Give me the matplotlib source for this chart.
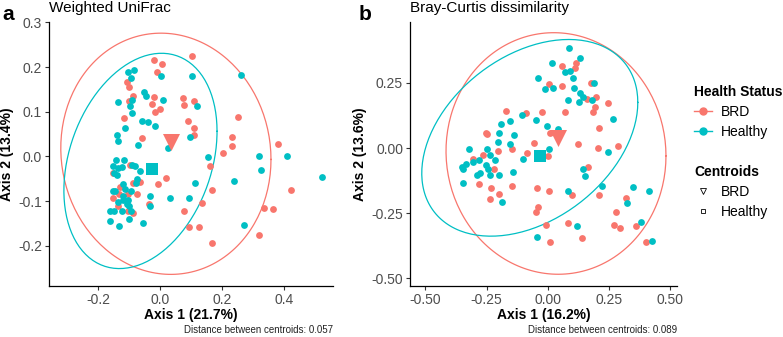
import numpy as np
import matplotlib
matplotlib.use("Agg")
import matplotlib.pyplot as plt
from matplotlib.lines import Line2D

plt.rcParams["font.family"] = ["Liberation Sans", "DejaVu Sans"]

RED = "#F8766D"
TEAL = "#00BFC4"

# ---- panel a: Weighted UniFrac ----
a_brd_x = [0.102, -0.019, 0.005, -0.011, -0.107, -0.099, -0.086, -0.099, -0.019, -0.027,
           0.000, -0.015, 0.073, 0.110, 0.077, -0.116, 0.091, 0.110, 0.110, -0.057,
           0.251, 0.233, 0.231, 0.204, 0.161, 0.380, 0.169, 0.423, 0.136, 0.077,
           0.095, 0.127, 0.335, 0.364, 0.167, 0.319, 0.019, -0.007, -0.152, -0.097,
           -0.086, -0.065, -0.131, -0.102, -0.073, -0.151, -0.136, -0.088, -0.102, -0.035,
           -0.129]
a_brd_y = [0.225, 0.216, 0.207, 0.190, 0.166, 0.155, 0.136, 0.125, 0.132, 0.118,
           0.106, 0.099, 0.130, 0.125, 0.115, 0.086, 0.080, 0.064, 0.049, 0.042,
           0.088, 0.043, 0.023, 0.008, -0.022, 0.028, -0.076, -0.076, -0.104, -0.122,
           -0.159, -0.159, -0.115, -0.117, -0.193, -0.176, -0.048, -0.061, -0.037, -0.020,
           -0.060, -0.057, -0.083, -0.083, -0.083, -0.094, -0.112, -0.126, -0.121, -0.107,
           -0.069]
a_healthy_x = [0.003, -0.102, -0.083, 0.102, -0.094, -0.135, -0.089, -0.097, -0.052, -0.046,
               0.009, 0.118, -0.091, -0.059, -0.038, -0.016, -0.113, 0.097, -0.138, -0.136,
               -0.070, 0.025, -0.143, -0.116, 0.261, 0.156, 0.319, 0.409, 0.325, 0.522,
               0.240, 0.113, -0.151, -0.135, -0.124, -0.091, -0.081, -0.148, -0.138, -0.065,
               -0.075, -0.118, -0.077, -0.145, -0.151, -0.113, -0.095, -0.032, -0.118, -0.118,
               -0.102, -0.135, -0.107, -0.161, -0.148, -0.124, -0.099, -0.094, -0.032, -0.161,
               -0.131, -0.099, -0.054, 0.032, 0.095, 0.271]
a_healthy_y = [0.181, 0.190, 0.194, 0.181, 0.175, 0.123, 0.127, 0.114, 0.144, 0.136,
               0.127, 0.112, 0.098, 0.079, 0.077, 0.069, 0.064, 0.043, 0.047, 0.034,
               0.026, 0.019, -0.007, -0.007, 0.182, -0.002, 0.001, 0.002, -0.030, -0.046,
               -0.054, -0.060, -0.022, -0.025, -0.024, -0.020, -0.022, -0.037, -0.041, -0.033,
               -0.050, -0.061, -0.060, -0.077, -0.077, -0.072, -0.077, -0.089, -0.089, -0.098,
               -0.097, -0.102, -0.106, -0.121, -0.123, -0.121, -0.112, -0.121, -0.112, -0.145,
               -0.156, -0.141, -0.150, -0.094, -0.094, -0.154]

# ---- panel b: Bray-Curtis ----
b_brd_x = [0.058, 0.116, 0.110, 0.004, 0.059, 0.176, 0.158, 0.196, 0.244, 0.192,
           0.185, 0.071, -0.023, -0.090, -0.173, 0.209, 0.008, -0.253, -0.247, -0.055,
           0.124, 0.205, 0.287, -0.145, -0.204, -0.084, 0.000, 0.164, -0.307, -0.264,
           -0.220, -0.280, -0.233, -0.200, -0.237, -0.147, -0.046, 0.004, 0.100, -0.042,
           -0.049, -0.007, 0.082, 0.007, 0.138, 0.209, 0.318, 0.278, 0.269, 0.294,
           0.358, 0.400]
b_brd_y = [0.315, 0.327, 0.308, 0.245, 0.238, 0.250, 0.188, 0.197, 0.171, 0.156,
           0.137, 0.138, 0.139, 0.135, 0.142, 0.075, 0.057, 0.059, 0.054, 0.020,
           0.015, 0.001, 0.009, -0.005, -0.010, -0.020, -0.032, -0.072, -0.041, -0.027,
           -0.080, -0.138, -0.154, -0.178, -0.197, -0.144, -0.154, -0.165, -0.179, -0.227,
           -0.244, -0.295, -0.289, -0.360, -0.344, -0.180, -0.193, -0.246, -0.295, -0.308,
           -0.299, -0.361]
b_healthy_x = [0.087, 0.015, 0.133, 0.071, 0.092, 0.103, -0.040, -0.011, 0.022, 0.107,
               0.189, 0.131, 0.142, 0.181, 0.080, 0.126, -0.105, 0.264, -0.050, -0.154,
               -0.191, -0.002, 0.040, -0.199, -0.140, -0.204, -0.156, -0.321, -0.247, 0.004,
               0.246, -0.280, -0.237, -0.218, -0.333, -0.101, -0.307, -0.253, -0.246, -0.347,
               -0.291, -0.278, -0.237, -0.200, -0.142, -0.346, -0.189, 0.143, 0.151, 0.082,
               0.219, 0.348, 0.413, 0.321, 0.382, 0.118, -0.044, 0.423, -0.350]
b_healthy_y = [0.382, 0.327, 0.344, 0.292, 0.295, 0.267, 0.270, 0.225, 0.230, 0.229,
               0.248, 0.212, 0.197, 0.184, 0.184, 0.177, 0.126, 0.110, 0.107, 0.103,
               0.092, 0.084, 0.074, 0.057, 0.049, 0.022, 0.014, -0.005, -0.003, -0.003,
               -0.014, -0.045, -0.027, -0.046, -0.060, -0.041, -0.052, -0.065, -0.082, -0.082,
               -0.103, -0.097, -0.103, -0.105, -0.093, -0.133, -0.206, -0.079, -0.107, -0.165,
               -0.146, -0.151, -0.165, -0.210, -0.282, -0.299, -0.342, -0.356, -0.072]

# centroids (BRD, Healthy)
a_cent_x = [0.035, -0.027]
a_cent_y = [0.033, -0.027]
b_cent_x = [0.040, -0.034]
b_cent_y = [0.037, -0.029]

# ellipses: center x, center y, half-width, half-height, correlation (BRD, Healthy)
a_ell = [(0.019, 0.006, 0.339, 0.270, -0.047), (-0.063, -0.010, 0.247, 0.241, 0.275)]
b_ell = [(0.033, -0.021, 0.449, 0.463, -0.02), (-0.074, 0.039, 0.441, 0.377, 0.36)]

a_dist = 0.057
b_dist = 0.089


def ellipse_xy(cx, cy, sx, sy, rho, n=200):
    t = np.linspace(0, 2 * np.pi, n)
    x = cx + sx * np.cos(t)
    y = cy + sy * (rho * np.cos(t) + np.sqrt(1 - rho ** 2) * np.sin(t))
    return x, y


def draw_panel(ax, brd, healthy, cent_x, cent_y, ells):
    for (cx, cy, sx, sy, rho), col in zip(ells, [RED, TEAL]):
        ex, ey = ellipse_xy(cx, cy, sx, sy, rho)
        ax.plot(ex, ey, color=col, lw=0.9, zorder=2)
    ax.scatter(brd[0], brd[1], s=24, color=RED, lw=0, zorder=3)
    ax.scatter(healthy[0], healthy[1], s=24, color=TEAL, lw=0, zorder=3)
    ax.scatter(cent_x[:1], cent_y[:1], marker="v", s=150, color=RED, lw=0, zorder=4)
    ax.scatter(cent_x[1:], cent_y[1:], marker="s", s=75, color=TEAL, lw=0, zorder=4)
    for side in ["top", "right"]:
        ax.spines[side].set_visible(False)
    for side in ["left", "bottom"]:
        ax.spines[side].set_color("black")
        ax.spines[side].set_linewidth(0.9)
    ax.tick_params(length=3, width=0.8, color="#333333", labelcolor="#4D4D4D",
                   labelsize=10, pad=2)


fig = plt.figure(figsize=(7.83, 3.37), dpi=100)

ax1 = fig.add_axes([49 / 783, 51 / 337, 284 / 783, 264 / 337])
draw_panel(ax1, (a_brd_x, a_brd_y), (a_healthy_x, a_healthy_y), a_cent_x, a_cent_y, a_ell)
ax1.set_xlim(-0.358, 0.558)
ax1.set_ylim(-0.290, 0.301)
ax1.set_xticks([-0.2, 0.0, 0.2, 0.4])
ax1.set_xticklabels(["-0.2", "0.0", "0.2", "0.4"])
ax1.set_yticks([-0.2, -0.1, 0.0, 0.1, 0.2, 0.3])
ax1.set_yticklabels(["-0.2", "-0.1", "0.0", "0.1", "0.2", "0.3"])
ax1.set_xlabel("Axis 1 (21.7%)", fontsize=10, fontweight="bold", labelpad=1)
ax1.set_ylabel("Axis 2 (13.4%)", fontsize=10, fontweight="bold", labelpad=3)
ax1.set_title("Weighted UniFrac", fontsize=11, loc="left", pad=7)

ax2 = fig.add_axes([410 / 783, 51 / 337, 267 / 783, 264 / 337])
draw_panel(ax2, (b_brd_x, b_brd_y), (b_healthy_x, b_healthy_y), b_cent_x, b_cent_y, b_ell)
ax2.set_xlim(-0.563, 0.527)
ax2.set_ylim(-0.529, 0.483)
ax2.set_xticks([-0.5, -0.25, 0.0, 0.25, 0.5])
ax2.set_xticklabels(["-0.50", "-0.25", "0.00", "0.25", "0.50"])
ax2.set_yticks([-0.5, -0.25, 0.0, 0.25])
ax2.set_yticklabels(["-0.50", "-0.25", "0.00", "0.25"])
ax2.set_xlabel("Axis 1 (16.2%)", fontsize=10, fontweight="bold", labelpad=1)
ax2.set_ylabel("Axis 2 (13.6%)", fontsize=10, fontweight="bold", labelpad=3)
ax2.set_title("Bray-Curtis dissimilarity", fontsize=11, loc="left", pad=7)

ax1.text(1.0, -0.168, f"Distance between centroids: {a_dist}", transform=ax1.transAxes,
         ha="right", va="center", fontsize=7, color="#222222")
ax2.text(1.0, -0.168, f"Distance between centroids: {b_dist}", transform=ax2.transAxes,
         ha="right", va="center", fontsize=7, color="#222222")

fig.text(8 / 783, 1 - 15 / 337, "a", fontsize=15, fontweight="bold", ha="center", va="center")
fig.text(365 / 783, 1 - 14 / 337, "b", fontsize=15, fontweight="bold", ha="center", va="center")

# legends
status_handles = [
    Line2D([0], [0], color=RED, lw=1, marker="o", ms=5),
    Line2D([0], [0], color=TEAL, lw=1, marker="o", ms=5),
]
leg1 = fig.legend(status_handles, ["BRD", "Healthy"], title="Health Status",
                  loc="upper left", bbox_to_anchor=(694 / 783, 1 - 85 / 337),
                  frameon=False, fontsize=10, handlelength=1.3, handletextpad=0.6,
                  labelspacing=0.42, borderpad=0, borderaxespad=0, alignment="left",
                  title_fontproperties={"weight": "bold", "size": 10})

cent_handles = [
    Line2D([0], [0], ls="none", marker="v", ms=4, mfc="none", mec="black", mew=0.6),
    Line2D([0], [0], ls="none", marker="s", ms=3.5, mfc="none", mec="black", mew=0.6),
]
leg2 = fig.legend(cent_handles, ["BRD", "Healthy"], title="Centroids",
                  loc="upper left", bbox_to_anchor=(694 / 783, 1 - 165 / 337),
                  frameon=False, fontsize=10, handlelength=1.3, handletextpad=0.6,
                  labelspacing=0.42, borderpad=0, borderaxespad=0, alignment="left",
                  title_fontproperties={"weight": "bold", "size": 10})

fig.savefig("out.png", dpi=100)
